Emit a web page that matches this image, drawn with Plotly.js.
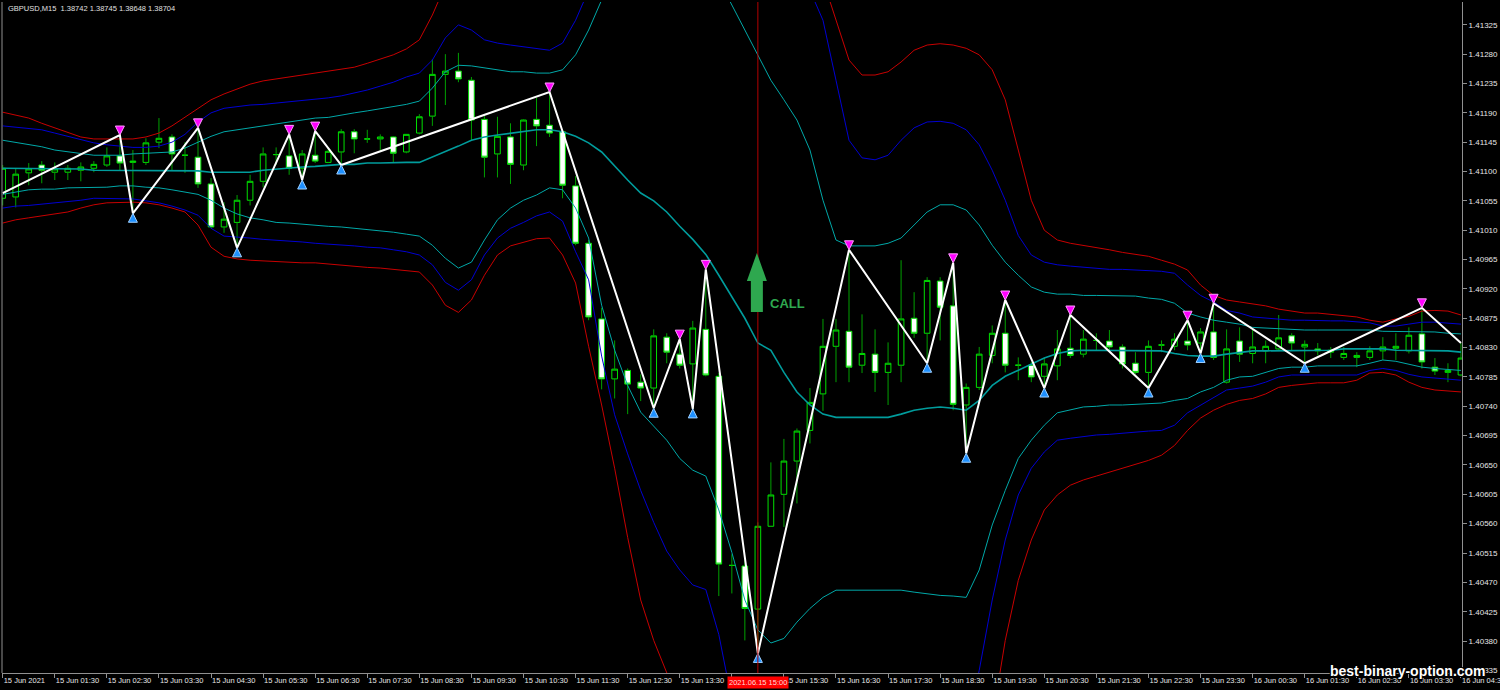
<!DOCTYPE html>
<html><head><meta charset="utf-8">
<script src="https://cdn.plot.ly/plotly-3.0.1.min.js"></script>
<style>html,body{margin:0;padding:0;background:#000;}#chart{width:1500px;height:690px;}</style>
</head><body><div id="chart"></div>
<script>
// ---- data: GBPUSD M15, bars from 15 Jun 2021 00:30 ----
const tickLabels = ["15 Jun 2021","15 Jun 01:30","15 Jun 02:30","15 Jun 03:30","15 Jun 04:30","15 Jun 05:30","15 Jun 06:30","15 Jun 07:30","15 Jun 08:30","15 Jun 09:30","15 Jun 10:30","15 Jun 11:30","15 Jun 12:30","15 Jun 13:30","15 Jun 14:30","15 Jun 15:30","15 Jun 16:30","15 Jun 17:30","15 Jun 18:30","15 Jun 19:30","15 Jun 20:30","15 Jun 21:30","15 Jun 22:30","15 Jun 23:30","16 Jun 00:30","16 Jun 01:30","16 Jun 02:30","16 Jun 03:30","16 Jun 04:30"];
const priceTicks = [1.40335,1.40380,1.40425,1.40470,1.40515,1.40560,1.40605,1.40650,1.40695,1.40740,1.40785,1.40830,1.40875,1.40920,1.40965,1.41010,1.41055,1.41100,1.41145,1.41190,1.41235,1.41280,1.41325];

const open = [
1.41059,1.41061,1.41098,1.41110,1.41099,1.41099,1.41102,1.41105,1.41110,1.41124,
1.41114,1.41114,1.41145,1.41153,1.41125,1.41122,1.41081,1.41015,1.41022,1.41056,
1.41085,1.41126,1.41124,1.41105,1.41125,1.41114,1.41130,1.41161,1.41150,1.41150,
1.41153,1.41130,1.41159,1.41185,1.41249,1.41254,1.41240,1.41180,1.41127,1.41153,
1.41110,1.41180,1.41171,1.41161,1.41078,1.40990,1.40874,1.40782,1.40795,1.40777,
1.40768,1.40846,1.40820,1.40805,1.40858,1.40786,1.40496,1.40495,1.40429,1.40556,
1.40605,1.40656,1.40703,1.40759,1.40832,1.40855,1.40803,1.40820,1.40792,1.40803,
1.40875,1.40852,1.40932,1.40894,1.40742,1.40769,1.40818,1.40852,1.40803,1.40803,
1.40786,1.40802,1.40829,1.40820,1.40841,1.40840,1.40831,1.40806,1.40792,1.40834,
1.40832,1.40840,1.40837,1.40854,1.40777,1.40840,1.40821,1.40825,1.40828,1.40848,
1.40831,1.40828,1.40823,1.40815,1.40815,1.40815,1.40825,1.40829,1.40825,1.40851,
1.40800,1.40792,1.40788];
const high = [
1.41110,1.41105,1.41113,1.41116,1.41114,1.41110,1.41114,1.41116,1.41137,1.41156,
1.41133,1.41151,1.41182,1.41157,1.41145,1.41167,1.41090,1.41053,1.41064,1.41095,
1.41137,1.41137,1.41157,1.41133,1.41162,1.41137,1.41165,1.41165,1.41164,1.41157,
1.41154,1.41157,1.41188,1.41272,1.41280,1.41282,1.41245,1.41185,1.41184,1.41174,
1.41180,1.41213,1.41222,1.41164,1.41093,1.40995,1.40891,1.40841,1.40798,1.40789,
1.40858,1.40852,1.40843,1.40871,1.40950,1.40791,1.40513,1.40504,1.40562,1.40654,
1.40690,1.40706,1.40768,1.40874,1.40874,1.40980,1.40881,1.40858,1.40838,1.40964,
1.40915,1.40938,1.40938,1.40960,1.40775,1.40831,1.40864,1.40903,1.40815,1.40808,
1.40814,1.40857,1.40880,1.40857,1.40852,1.40857,1.40835,1.40823,1.40841,1.40841,
1.40852,1.40872,1.40860,1.40898,1.40858,1.40861,1.40857,1.40841,1.40880,1.40852,
1.40841,1.40837,1.40831,1.40831,1.40823,1.40832,1.40846,1.40852,1.40861,1.40891,
1.40814,1.40806,1.40837];
const low = [
1.41048,1.41045,1.41079,1.41082,1.41087,1.41087,1.41085,1.41099,1.41107,1.41102,
1.41036,1.41110,1.41136,1.41102,1.41098,1.41075,1.41013,1.41006,1.40983,1.41048,
1.41076,1.41110,1.41095,1.41087,1.41113,1.41113,1.41110,1.41128,1.41144,1.41130,
1.41114,1.41128,1.41157,1.41170,1.41202,1.41237,1.41148,1.41091,1.41091,1.41081,
1.41102,1.41139,1.41153,1.41059,1.40987,1.40872,1.40766,1.40752,1.40728,1.40748,
1.40737,1.40806,1.40798,1.40736,1.40786,1.40449,1.40453,1.40381,1.40361,1.40555,
1.40555,1.40591,1.40683,1.40733,1.40777,1.40777,1.40791,1.40762,1.40742,1.40777,
1.40845,1.40806,1.40841,1.40734,1.40668,1.40765,1.40806,1.40792,1.40780,1.40777,
1.40768,1.40780,1.40814,1.40815,1.40826,1.40823,1.40798,1.40789,1.40768,1.40823,
1.40826,1.40826,1.40821,1.40811,1.40775,1.40808,1.40806,1.40806,1.40826,1.40826,
1.40806,1.40818,1.40814,1.40811,1.40800,1.40811,1.40811,1.40811,1.40821,1.40798,
1.40788,1.40777,1.40786];
const close = [
1.41105,1.41096,1.41104,1.41102,1.41104,1.41105,1.41107,1.41111,1.41124,1.41113,
1.41116,1.41144,1.41151,1.41127,1.41125,1.41081,1.41015,1.41027,1.41056,1.41085,
1.41127,1.41126,1.41105,1.41127,1.41116,1.41131,1.41161,1.41150,1.41150,1.41153,
1.41128,1.41157,1.41184,1.41249,1.41254,1.41242,1.41179,1.41122,1.41154,1.41111,
1.41179,1.41170,1.41159,1.41079,1.40990,1.40877,1.40782,1.40797,1.40774,1.40768,
1.40848,1.40823,1.40803,1.40860,1.40788,1.40498,1.40496,1.40430,1.40556,1.40604,
1.40656,1.40702,1.40746,1.40832,1.40857,1.40800,1.40821,1.40792,1.40806,1.40874,
1.40852,1.40933,1.40892,1.40743,1.40769,1.40820,1.40852,1.40803,1.40803,1.40785,
1.40805,1.40828,1.40818,1.40843,1.40841,1.40831,1.40805,1.40792,1.40832,1.40834,
1.40843,1.40834,1.40854,1.40815,1.40828,1.40820,1.40831,1.40832,1.40845,1.40837,
1.40835,1.40825,1.40826,1.40821,1.40818,1.40825,1.40831,1.40832,1.40849,1.40808,
1.40794,1.40795,1.40814];

// envelope bands (upper red / blue / cyan, middle, lower cyan / blue / red)
const redUpper = [
1.41191,1.41187,1.41182,1.41174,1.41167,1.41159,1.41153,1.41150,1.41150,1.41150,
1.41150,1.41153,1.41159,1.41170,1.41183,1.41197,1.41210,1.41219,1.41226,1.41234,
1.41239,1.41242,1.41245,1.41248,1.41251,1.41253,1.41256,1.41260,1.41266,1.41272,
1.41279,1.41288,1.41302,1.41340,1.41386,null,null,null,null,null,
null,null,null,null,null,null,null,null,null,null,
null,null,null,null,null,null,null,null,null,null,
null,null,null,1.41394,1.41332,1.41271,1.41248,1.41248,1.41253,1.41268,
1.41286,1.41294,1.41296,1.41294,1.41289,1.41279,1.41256,1.41210,1.41133,1.41056,
1.41010,1.40995,1.40990,1.40987,1.40984,1.40980,1.40976,1.40973,1.40970,1.40964,
1.40958,1.40949,1.40926,1.40910,1.40903,1.40900,1.40897,1.40894,1.40889,1.40886,
1.40883,1.40883,1.40881,1.40880,1.40877,1.40872,1.40869,1.40874,1.40878,1.40886,
1.40887,1.40886,1.40880];
const blueUpper = [
1.41170,1.41168,1.41167,1.41164,1.41159,1.41154,1.41148,1.41144,1.41141,1.41139,
1.41137,1.41137,1.41139,1.41145,1.41157,1.41176,1.41190,1.41197,1.41200,1.41202,
1.41203,1.41205,1.41206,1.41208,1.41210,1.41213,1.41216,1.41220,1.41225,1.41231,
1.41237,1.41245,1.41251,1.41271,1.41305,1.41325,1.41317,1.41302,1.41297,1.41294,
1.41291,1.41288,1.41286,1.41297,1.41332,1.41378,null,null,null,null,
null,null,null,null,null,null,null,null,null,null,
null,null,1.41378,1.41332,1.41240,1.41148,1.41121,1.41118,1.41125,1.41148,
1.41167,1.41176,1.41177,1.41174,1.41164,1.41141,1.41102,1.41056,1.41002,1.40972,
1.40961,1.40957,1.40955,1.40953,1.40952,1.40950,1.40950,1.40949,1.40949,1.40947,
1.40944,1.40926,1.40910,1.40900,1.40887,1.40883,1.40877,1.40875,1.40874,1.40872,
1.40872,1.40871,1.40871,1.40871,1.40869,1.40868,1.40863,1.40863,1.40866,1.40869,
1.40869,1.40868,1.40866];
const cyanUpper = [
1.41148,1.41145,1.41142,1.41138,1.41133,1.41130,1.41127,1.41125,1.41125,1.41125,
1.41127,1.41128,1.41128,1.41130,1.41136,1.41145,1.41154,1.41161,1.41164,1.41167,
1.41170,1.41173,1.41176,1.41179,1.41182,1.41183,1.41187,1.41190,1.41193,1.41196,
1.41199,1.41203,1.41208,1.41228,1.41253,1.41263,1.41262,1.41259,1.41256,1.41253,
1.41253,1.41251,1.41251,1.41256,1.41279,1.41317,1.41363,1.41409,null,null,
null,null,null,null,null,1.41394,1.41355,1.41317,1.41279,1.41240,
1.41210,1.41179,1.41133,1.41056,1.40995,1.40986,1.40986,1.40986,1.40990,1.40998,
1.41018,1.41038,1.41049,1.41049,1.41041,1.41018,1.40987,1.40961,1.40941,1.40923,
1.40915,1.40912,1.40912,1.40910,1.40910,1.40910,1.40910,1.40909,1.40906,1.40904,
1.40898,1.40883,1.40877,1.40872,1.40869,1.40866,1.40861,1.40860,1.40858,1.40858,
1.40857,1.40857,1.40857,1.40857,1.40857,1.40857,1.40855,1.40855,1.40855,1.40855,
1.40854,1.40852,1.40851];
const middle = [
1.41105,1.41105,1.41105,1.41105,1.41104,1.41104,1.41104,1.41102,1.41102,1.41102,
1.41102,1.41102,1.41101,1.41101,1.41101,1.41101,1.41099,1.41099,1.41099,1.41099,
1.41102,1.41104,1.41105,1.41107,1.41108,1.41110,1.41111,1.41111,1.41113,1.41113,
1.41114,1.41114,1.41114,1.41122,1.41131,1.41139,1.41148,1.41153,1.41156,1.41159,
1.41162,1.41164,1.41164,1.41161,1.41154,1.41144,1.41130,1.41108,1.41087,1.41067,
1.41055,1.41038,1.41016,1.40996,1.40973,1.40941,1.40909,1.40875,1.40837,1.40826,
1.40792,1.40762,1.40742,1.40728,1.40723,1.40723,1.40723,1.40723,1.40723,1.40728,
1.40734,1.40737,1.40739,1.40737,1.40734,1.40749,1.40772,1.40786,1.40795,1.40805,
1.40814,1.40821,1.40825,1.40826,1.40826,1.40826,1.40826,1.40826,1.40826,1.40825,
1.40821,1.40818,1.40817,1.40817,1.40820,1.40823,1.40825,1.40825,1.40825,1.40825,
1.40825,1.40826,1.40826,1.40828,1.40828,1.40828,1.40828,1.40826,1.40826,1.40826,
1.40825,1.40825,1.40823];
const cyanLower = [
1.41065,1.41068,1.41072,1.41073,1.41073,1.41075,1.41075,1.41076,1.41076,1.41078,
1.41078,1.41076,1.41075,1.41072,1.41068,1.41065,1.41056,1.41044,1.41035,1.41029,
1.41026,1.41022,1.41021,1.41019,1.41018,1.41016,1.41015,1.41013,1.41012,1.41010,
1.41007,1.41004,1.41001,1.40987,1.40967,1.40952,1.40961,1.40995,1.41026,1.41044,
1.41056,1.41064,1.41075,1.41072,1.41044,1.40998,1.40895,1.40826,1.40772,1.40731,
1.40710,1.40688,1.40660,1.40642,1.40633,1.40581,1.40516,1.40443,1.40397,1.40377,
1.40384,1.40409,1.40430,1.40447,1.40458,1.40458,1.40458,1.40458,1.40458,1.40458,
1.40455,1.40452,1.40450,1.40449,1.40447,1.40489,1.40558,1.40611,1.40660,1.40688,
1.40711,1.40730,1.40734,1.40739,1.40740,1.40742,1.40742,1.40743,1.40743,1.40745,
1.40749,1.40752,1.40762,1.40769,1.40780,1.40785,1.40786,1.40792,1.40798,1.40800,
1.40800,1.40802,1.40802,1.40802,1.40802,1.40806,1.40811,1.40809,1.40805,1.40800,
1.40798,1.40797,1.40795];
const blueLower = [
1.41044,1.41047,1.41048,1.41050,1.41052,1.41053,1.41056,1.41059,1.41059,1.41058,
1.41058,1.41055,1.41052,1.41047,1.41041,1.41033,1.41013,1.41001,1.41000,1.40998,
1.40996,1.40995,1.40993,1.40992,1.40990,1.40989,1.40987,1.40986,1.40984,1.40983,
1.40980,1.40977,1.40972,1.40957,1.40930,1.40918,1.40934,1.40972,1.40998,1.41013,
1.41022,1.41032,1.41038,1.41024,1.40977,1.40934,1.40817,1.40727,1.40667,1.40611,
1.40562,1.40518,1.40489,1.40466,1.40459,1.40390,1.40289,null,null,null,
null,null,null,null,null,null,null,null,null,null,
null,null,null,null,1.40243,1.40335,1.40443,1.40535,1.40604,1.40645,
1.40670,1.40688,1.40691,1.40694,1.40696,1.40697,1.40699,1.40700,1.40702,1.40703,
1.40711,1.40730,1.40742,1.40754,1.40765,1.40768,1.40771,1.40777,1.40785,1.40788,
1.40788,1.40788,1.40788,1.40788,1.40788,1.40795,1.40798,1.40795,1.40789,1.40785,
1.40783,1.40782,1.40780];
const redLower = [
1.41021,1.41026,1.41029,1.41032,1.41035,1.41038,1.41044,1.41049,1.41052,1.41053,
1.41053,1.41052,1.41049,1.41044,1.41038,1.41018,1.40984,1.40970,1.40966,1.40964,
1.40963,1.40961,1.40961,1.40960,1.40960,1.40958,1.40957,1.40955,1.40953,1.40952,
1.40950,1.40949,1.40946,1.40926,1.40895,1.40884,1.40903,1.40941,1.40972,1.40986,
1.40992,1.40997,1.40998,1.40972,1.40929,1.40832,1.40742,1.40645,1.40539,1.40443,
1.40381,1.40332,1.40282,null,null,null,null,null,null,null,
null,null,null,null,null,null,null,null,null,null,
null,null,null,null,null,null,1.40259,1.40381,1.40473,1.40535,
1.40581,1.40604,1.40619,1.40627,1.40633,1.40639,1.40644,1.40650,1.40657,1.40665,
1.40680,1.40703,1.40722,1.40734,1.40743,1.40749,1.40752,1.40759,1.40769,1.40772,
1.40774,1.40776,1.40776,1.40776,1.40780,1.40791,1.40792,1.40788,1.40777,1.40769,
1.40765,1.40763,1.40762];

// zigzag swing points (bar index, price, kind)
const zzBar   = [0,9,10,15,18,22,23,24,26,42,50,52,53,54,58,65,71,73,74,77,80,82,88,91,92,93,100,109,112];
const zzPrice = [1.41067,1.41156,1.41036,1.41167,1.40983,1.41157,1.41087,1.41162,1.41110,1.41222,1.40737,1.40843,1.40736,1.40950,1.40361,1.40980,1.40806,1.40960,1.40668,1.40903,1.40768,1.40880,1.40768,1.40872,1.40821,1.40898,1.40806,1.40891,1.40837];
const zzKind  = ["","H","L","H","L","H","L","H","L","H","L","H","L","H","L","H","L","H","L","H","L","H","L","H","L","H","L","H",""];

const headerText = "GBPUSD,M15\u00a0\u00a01.38742 1.38745 1.38648 1.38704";
const signalBar = 58;
const signalLabel = "2021.06.15 15:00";
const signalText = "CALL";
const watermark = "best-binary-option.com";

// ---- build traces ----
const bars = open.map((_, i) => i);
const bodyTop = open.map((o, i) => Math.max(o, close[i]));
const bodyBot = open.map((o, i) => Math.min(o, close[i]));
const wx = [], wy = [];
bars.forEach(i => {
  wx.push(i, i, null, i, i, null);
  wy.push(high[i], bodyTop[i], null, bodyBot[i], low[i], null);
});
const tickBars = tickLabels.map((_, k) => k * 4);
// the time box of the signal bar covers the axis label that starts just before it
const tickShown = tickLabels.map((t, k) => (k * 4 <= signalBar && signalBar - k * 4 < 4) ? '' : t);

const band = (y, color, w) => ({type:'scatter', mode:'lines', x:bars, y:y, line:{color:color, width:w}, connectgaps:false, hoverinfo:'skip'});

const hiIdx = zzKind.map((k,i)=>k==='H'?i:-1).filter(i=>i>=0);
const loIdx = zzKind.map((k,i)=>k==='L'?i:-1).filter(i=>i>=0);

const traces = [
  {type:'scatter', mode:'lines', x:wx, y:wy, line:{color:'#00a000', width:1}, hoverinfo:'skip'},
  {type:'candlestick', x:bars, open:open, close:close, high:bodyTop, low:bodyBot,
   increasing:{line:{color:'#00e000', width:1}, fillcolor:'#000000'},
   decreasing:{line:{color:'#00e000', width:1}, fillcolor:'#ffffff'},
   whiskerwidth:0, hoverinfo:'skip'},
  band(redUpper, '#c80000', 1),
  band(blueUpper, '#0000d2', 1),
  band(cyanUpper, '#00a8a8', 1),
  band(middle, '#009c9c', 1.6),
  band(cyanLower, '#00a8a8', 1),
  band(blueLower, '#0000d2', 1),
  band(redLower, '#c80000', 1),
  {type:'scatter', mode:'lines', x:zzBar, y:zzPrice, line:{color:'#ffffff', width:2}, hoverinfo:'skip'},
  {type:'scatter', mode:'markers', x:hiIdx.map(i=>zzBar[i]), y:hiIdx.map(i=>zzPrice[i]),
   marker:{symbol:'arrow-down', size:9, color:'#ff00ff', line:{color:'#ff9cff', width:1}}, hoverinfo:'skip'},
  {type:'scatter', mode:'markers', x:loIdx.map(i=>zzBar[i]), y:loIdx.map(i=>zzPrice[i]),
   marker:{symbol:'arrow-up', size:9, color:'#1e90ff', line:{color:'#9fd0ff', width:1}}, hoverinfo:'skip'}
];

const axisFont = {family:'Liberation Sans, Arial, sans-serif', size:7.5, color:'#e6e6e6'};
const layout = {
  width:1500, height:690,
  paper_bgcolor:'#000000', plot_bgcolor:'#000000',
  margin:{l:2, r:38, t:2, b:17, pad:0},
  showlegend:false, hovermode:false, boxgap:0.38,
  xaxis:{range:[-0.054, 112.08], tickvals:tickBars, ticktext:tickShown, tickangle:0,
    ticks:'outside', ticklen:4, tickcolor:'#909090', tickwidth:1,
    showline:true, linecolor:'#909090', linewidth:1, showgrid:false, zeroline:false,
    ticklabelposition:'outside right', ticklabeloverflow:'allow', tickfont:axisFont, automargin:false,
    rangeslider:{visible:false}, fixedrange:true},
  yaxis:{range:[1.40331, 1.41360], side:'right', tickvals:priceTicks, tickformat:'.5f',
    ticks:'outside', ticklen:4, tickcolor:'#909090', tickwidth:1, automargin:false,
    showline:true, linecolor:'#909090', linewidth:1, showgrid:false, zeroline:false,
    tickfont:{family:'Liberation Sans, Arial, sans-serif', size:8, color:'#e6e6e6'}, fixedrange:true},
  shapes:[
    {type:'line', xref:'paper', yref:'paper', x0:0, x1:0, y0:0, y1:1, line:{color:'#909090', width:1}},
    {type:'line', xref:'x', yref:'paper', x0:signalBar, x1:signalBar, y0:0, y1:1, line:{color:'#b40000', width:1}},
    {type:'path', xref:'x', yref:'paper', xsizemode:'pixel', ysizemode:'pixel', xanchor:signalBar, yanchor:0.538,
     path:'M -7 0 L 5 0 L 5 31 L 9 31 L -1 59 L -11 31 L -7 31 Z', fillcolor:'#2ea84f', line:{width:0}}
  ],
  annotations:[
    {xref:'paper', yref:'paper', x:0.0027, y:0.991, xanchor:'left', yanchor:'middle', showarrow:false,
     text:headerText, font:{family:'Liberation Sans, Arial, sans-serif', size:7.5, color:'#e0e0e0'}},
    {xref:'x', yref:'paper', x:signalBar, y:0, yanchor:'top', yshift:-3, showarrow:false,
     text:signalLabel, bgcolor:'#ff0000', borderpad:1,
     font:{family:'Liberation Sans, Arial, sans-serif', size:7.5, color:'#ffd8d8'}},
    {xref:'x', yref:'paper', x:signalBar, xshift:10, y:0.5514, xanchor:'left', yanchor:'middle', showarrow:false,
     text:'<b>'+signalText+'</b>', font:{family:'Liberation Sans, Arial, sans-serif', size:13, color:'#2ea84f'}},
    {xref:'paper', yref:'paper', x:1.0175, y:0.003, xanchor:'right', yanchor:'middle', showarrow:false,
     text:'<b>'+watermark+'</b>',
     font:{family:'Liberation Sans, Arial, sans-serif', size:14, color:'#ffffff',
       shadow:'1px 1px 0 #000, -1px -1px 0 #000, 1px -1px 0 #000, -1px 1px 0 #000'}}
  ]
};

Plotly.newPlot('chart', traces, layout, {displayModeBar:false, staticPlot:true});
</script>
</body></html>
